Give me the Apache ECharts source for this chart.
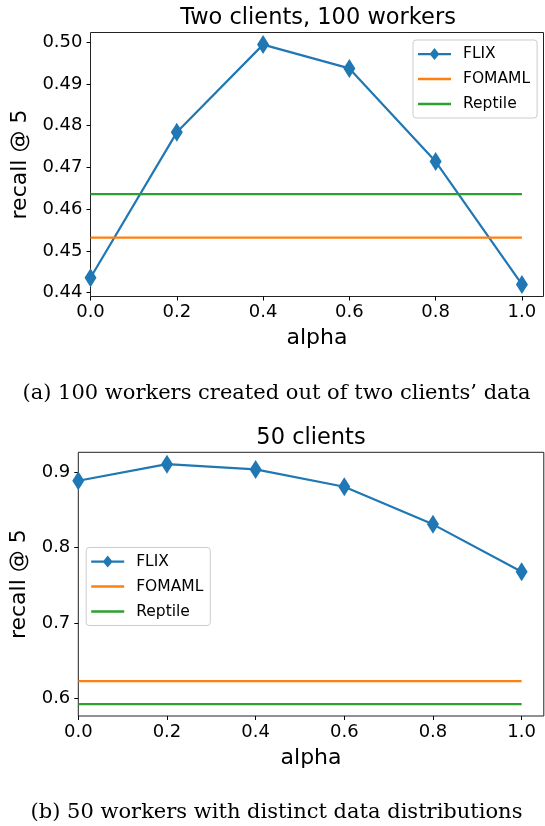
<!DOCTYPE html>
<html>
<head>
<meta charset="utf-8">
<script src="https://cdn.jsdelivr.net/npm/echarts@6/dist/echarts.min.js"></script>
<style>
html,body{margin:0;padding:0;background:#fff;}
#c{width:545px;height:826px;}
</style>
</head>
<body>
<div id="c"></div>
<script>
// ---- data ----
const alpha = [0.0, 0.2, 0.4, 0.6, 0.8, 1.0];
const xTicks = [0.0, 0.2, 0.4, 0.6, 0.8, 1.0];

// (a) Two clients, 100 workers
const flixA = [0.4436, 0.4784, 0.4994, 0.4937, 0.4714, 0.4420];
const fomamlA = 0.4532;
const reptileA = 0.4636;
const yTicksA = [0.44, 0.45, 0.46, 0.47, 0.48, 0.49, 0.50];

// (b) 50 clients
const flixB = [0.889, 0.911, 0.904, 0.881, 0.831, 0.768];
const fomamlB = 0.6225;
const reptileB = 0.592;
const yTicksB = [0.6, 0.7, 0.8, 0.9];

const titleA = 'Two clients, 100 workers';
const titleB = '50 clients';
const captionA = '(a) 100 workers created out of two clients\u2019 data';
const captionB = '(b) 50 workers with distinct data distributions';

// ---- styling ----
const C_BLUE = '#1f77b4', C_ORANGE = '#ff7f0e', C_GREEN = '#2ca02c';
const SANS = 'DejaVu Sans';
const SERIF = 'DejaVu Serif';

function pairs(xs, ys) { return xs.map((x, i) => [x, ys[i]]); }
function hline(v) { return [[alpha[0], v], [alpha[alpha.length - 1], v]]; }

const flixIcon = 'path://M0,0M33,14M0,6L12.5,6L16.5,1L20.5,6L33,6L33,8.2L20.5,8.2L16.5,13L12.5,8.2L0,8.2Z';
const lineIcon = 'path://M0,0M33,14M0,5.8L33,5.8L33,8.2L0,8.2Z';

function legendCfg(left, top) {
  return {
    left: left, top: top, orient: 'vertical',
    itemWidth: 33, itemHeight: 14, itemGap: 9,
    padding: [6, 7, 6, 5],
    backgroundColor: 'rgba(255,255,255,0.8)',
    borderColor: '#cccccc', borderWidth: 1, borderRadius: 3,
    textStyle: { fontFamily: SANS, fontSize: 15.5, color: '#000', padding: [0, 0, 0, 7] },
    data: [
      { name: 'FLIX', icon: flixIcon },
      { name: 'FOMAML', icon: lineIcon },
      { name: 'Reptile', icon: lineIcon }
    ],
    selectedMode: false
  };
}

function xAxisCfg(gridIndex) {
  return {
    type: 'value', gridIndex: gridIndex, min: 0, max: 1.05,
    name: 'alpha', nameLocation: 'middle', nameGap: 31,
    nameTextStyle: { fontFamily: SANS, fontSize: 22, color: '#000' },
    axisLine: { show: false },
    splitLine: { show: false },
    axisTick: { show: true, length: 4, lineStyle: { color: '#000', width: 1 }, customValues: xTicks },
    axisLabel: { fontFamily: SANS, fontSize: 18, color: '#000', margin: 7,
      customValues: xTicks, formatter: v => v.toFixed(1) }
  };
}

function yAxisCfg(gridIndex, min, max, ticks, digits, gap) {
  return {
    type: 'value', gridIndex: gridIndex, min: min, max: max,
    name: 'recall @ 5', nameLocation: 'middle', nameGap: gap,
    nameTextStyle: { fontFamily: SANS, fontSize: 22, color: '#000' },
    axisLine: { show: false },
    splitLine: { show: false },
    axisTick: { show: true, length: 4, lineStyle: { color: '#000', width: 1 }, customValues: ticks },
    axisLabel: { fontFamily: SANS, fontSize: 18, color: '#000', margin: 8,
      customValues: ticks, formatter: v => v.toFixed(digits) }
  };
}

function flixSeries(idx, ys) {
  return {
    name: 'FLIX', type: 'line', xAxisIndex: idx, yAxisIndex: idx,
    data: pairs(alpha, ys),
    symbol: 'diamond', symbolSize: [12, 19], showSymbol: true,
    lineStyle: { color: C_BLUE, width: 2.2 },
    itemStyle: { color: C_BLUE },
    emphasis: { disabled: true }, z: 2
  };
}
function flatSeries(name, idx, v, color) {
  return {
    name: name, type: 'line', xAxisIndex: idx, yAxisIndex: idx,
    data: hline(v), symbol: 'none',
    lineStyle: { color: color, width: 2.2 },
    itemStyle: { color: color },
    emphasis: { disabled: true }, z: 3
  };
}

const chart = echarts.init(document.getElementById('c'), null, { renderer: 'canvas' });
chart.setOption({
  animation: false,
  backgroundColor: '#fff',
  grid: [
    { left: 90.5, top: 32.5, width: 453, height: 264, show: true, borderColor: '#222', borderWidth: 1, containLabel: false },
    { left: 78.3, top: 452.3, width: 465.5, height: 263.7, show: true, borderColor: '#222', borderWidth: 1, containLabel: false }
  ],
  xAxis: [xAxisCfg(0), xAxisCfg(1)],
  yAxis: [
    yAxisCfg(0, 0.4391, 0.5023, yTicksA, 2, 56),
    yAxisCfg(1, 0.5762, 0.9268, yTicksB, 1, 44)
  ],
  legend: [legendCfg(413, 40), legendCfg(86.2, 547.5)],
  series: [
    flixSeries(0, flixA),
    flatSeries('FOMAML', 0, fomamlA, C_ORANGE),
    flatSeries('Reptile', 0, reptileA, C_GREEN),
    flixSeries(1, flixB),
    flatSeries('FOMAML', 1, fomamlB, C_ORANGE),
    flatSeries('Reptile', 1, reptileB, C_GREEN)
  ],
  graphic: [
    { type: 'text', x: 318, y: 18, style: { text: titleA, fontFamily: SANS, fontSize: 22.5, fill: '#000', align: 'center', verticalAlign: 'middle' } },
    { type: 'text', x: 311, y: 438, style: { text: titleB, fontFamily: SANS, fontSize: 22.5, fill: '#000', align: 'center', verticalAlign: 'middle' } },
    { type: 'text', x: 276.5, y: 394, style: { text: captionA, fontFamily: SERIF, fontSize: 21, fill: '#000', align: 'center', verticalAlign: 'middle' } },
    { type: 'text', x: 276.5, y: 813, style: { text: captionB, fontFamily: SERIF, fontSize: 21, fill: '#000', align: 'center', verticalAlign: 'middle' } }
  ]
});
</script>
</body>
</html>
